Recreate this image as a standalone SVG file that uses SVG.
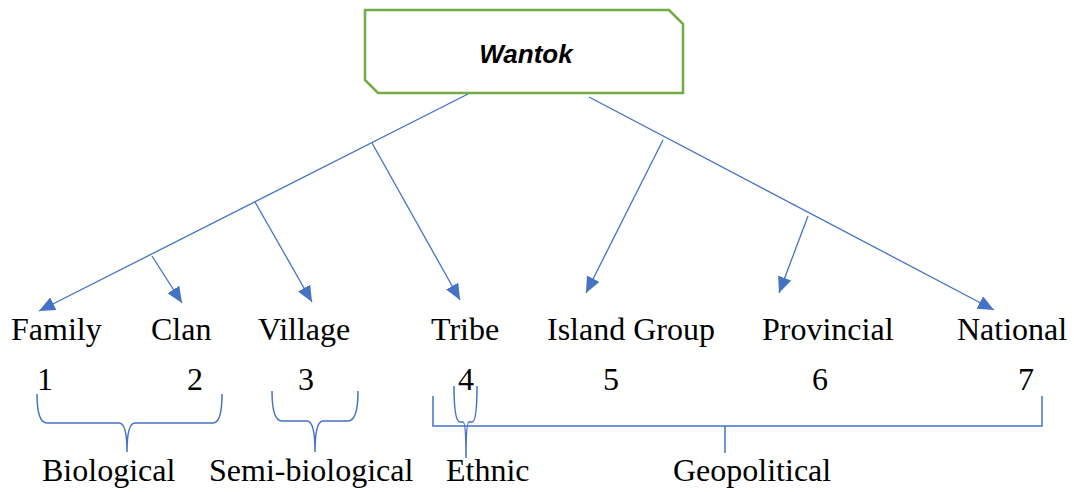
<svg xmlns="http://www.w3.org/2000/svg" width="1074" height="492" viewBox="0 0 1074 492">
<style>
.lbl{font-family:"Liberation Serif","Times New Roman",serif;font-size:32px;fill:#000}
.ln{stroke:#4472C4;stroke-width:1.3;fill:none}
.br{stroke:#4472C4;stroke-width:1.5;fill:none}
</style>
<defs>
<marker id="ah" markerUnits="userSpaceOnUse" markerWidth="18" markerHeight="16" refX="16" refY="7" orient="auto">
<path d="M0,0 L16,7 L0,14 z" fill="#4472C4"/>
</marker>
</defs>
<rect width="1074" height="492" fill="#fff"/>
<g id="wantok">
<path d="M365,10 L669,10 L683,24 L683,93 L378,93 L365,80 z" fill="#fff" stroke="#70AD47" stroke-width="2.5"/>
<text x="526" y="63" text-anchor="middle" font-family="Liberation Sans, Arial, sans-serif" font-size="26" font-weight="bold" font-style="italic">Wantok</text>
</g>
<g id="connectors">
<line class="ln" x1="468" y1="94" x2="39" y2="311" marker-end="url(#ah)"/>
<line class="ln" x1="152" y1="256" x2="182" y2="303" marker-end="url(#ah)"/>
<line class="ln" x1="255" y1="202" x2="312" y2="302" marker-end="url(#ah)"/>
<line class="ln" x1="372" y1="143" x2="460" y2="300" marker-end="url(#ah)"/>
<line class="ln" x1="589" y1="97" x2="994" y2="310" marker-end="url(#ah)"/>
<line class="ln" x1="663" y1="140" x2="586" y2="293" marker-end="url(#ah)"/>
<line class="ln" x1="808" y1="216" x2="779" y2="293" marker-end="url(#ah)"/>
</g>
<g id="labels">
<text class="lbl" x="11" y="340">Family</text>
<text class="lbl" x="151" y="340">Clan</text>
<text class="lbl" x="258" y="340">Village</text>
<text class="lbl" x="431" y="340">Tribe</text>
<text class="lbl" x="547" y="340">Island Group</text>
<text class="lbl" x="762" y="340">Provincial</text>
<text class="lbl" x="957" y="340">National</text>
</g>
<g id="numbers">
<text class="lbl" x="45" y="390" text-anchor="middle">1</text>
<text class="lbl" x="195" y="390" text-anchor="middle">2</text>
<text class="lbl" x="306" y="390" text-anchor="middle">3</text>
<text class="lbl" x="466" y="390" text-anchor="middle">4</text>
<text class="lbl" x="611" y="390" text-anchor="middle">5</text>
<text class="lbl" x="820" y="390" text-anchor="middle">6</text>
<text class="lbl" x="1026" y="390" text-anchor="middle">7</text>
</g>
<g id="brace-biological">
<path class="br" d="M37,394 Q37,423 47,423 L119,423 Q127,423 127,452 Q127,423 135,423 L213,423 Q222,423 222,394"/>
<text class="lbl" x="42" y="481">Biological</text>
</g>
<g id="brace-semibiological">
<path class="br" d="M272,391 Q272,421 282,421 L307,421 Q315,421 315,452 Q315,421 323,421 L348,421 Q358,421 358,391"/>
<text class="lbl" x="209" y="481">Semi-biological</text>
</g>
<g id="brace-geopolitical">
<path class="br" d="M433,396 L433,426 L1042,426 L1042,396 M725,426 L725,453"/>
<text class="lbl" x="673" y="481">Geopolitical</text>
</g>
<g id="brace-ethnic">
<path class="br" d="M454,386 Q454,422 460,422 L463,422 Q466,422 466,458 Q466,422 469,422 L472,422 Q477,422 477,386"/>
<text class="lbl" x="446" y="481">Ethnic</text>
</g>
</svg>
